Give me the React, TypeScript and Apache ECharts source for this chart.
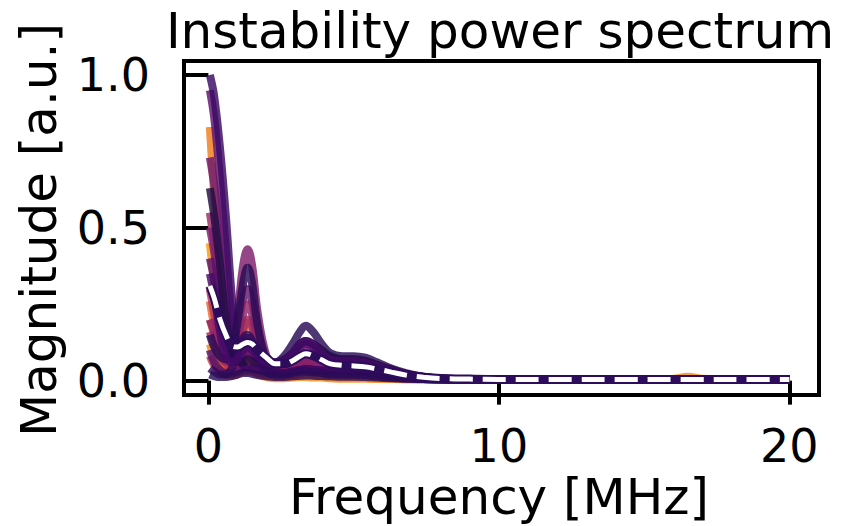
import React, { useEffect, useRef } from "react";
import * as echarts from "echarts";

// Frequency grid [MHz]
const FREQ = [0.05, 0.2, 0.4, 0.6, 0.8, 1.0, 1.2, 1.35, 1.5, 1.7, 2.0, 2.3, 2.6, 2.9, 3.15, 3.35, 3.6, 3.9, 4.2, 4.6, 5.0, 5.4, 5.8, 6.3, 6.8, 7.4, 8.0, 9.0, 10, 12, 14, 16, 16.5, 17, 18, 20];

// Individual spectra (back to front)
const O1 = [0.83, 0.6, 0.32, 0.14, 0.06, 0.04, 0.05, 0.06, 0.05, 0.04, 0.03, 0.02, 0.02, 0.03, 0.03, 0.03, 0.03, 0.025, 0.02, 0.02, 0.02, 0.02, 0.015, 0.012, 0.01, 0.007, 0.005, 0.004, 0.004, 0.004, 0.004, 0.004, 0.005, 0.004, 0.004, 0.004];
const O2 = [0.45, 0.32, 0.15, 0.06, 0.03, 0.03, 0.04, 0.05, 0.045, 0.035, 0.025, 0.015, 0.012, 0.015, 0.02, 0.02, 0.018, 0.015, 0.012, 0.01, 0.01, 0.01, 0.008, 0.007, 0.006, 0.005, 0.004, 0.004, 0.004, 0.004, 0.004, 0.004, 0.004, 0.004, 0.004, 0.004];
const O3 = [0.2, 0.15, 0.08, 0.05, 0.06, 0.1, 0.16, 0.19, 0.17, 0.1, 0.04, 0.02, 0.015, 0.02, 0.03, 0.035, 0.03, 0.025, 0.02, 0.02, 0.02, 0.018, 0.015, 0.01, 0.008, 0.006, 0.004, 0.004, 0.004, 0.004, 0.004, 0.004, 0.004, 0.004, 0.004, 0.004];
const O4 = [0.12, 0.08, 0.04, 0.02, 0.015, 0.02, 0.03, 0.035, 0.03, 0.02, 0.012, 0.008, 0.008, 0.01, 0.012, 0.012, 0.01, 0.01, 0.008, 0.006, 0.006, 0.006, 0.005, 0.005, 0.004, 0.003, 0.003, 0.003, 0.004, 0.004, 0.005, 0.006, 0.013, 0.006, 0.004, 0.004];
const O5 = [0.26, 0.18, 0.09, 0.04, 0.03, 0.04, 0.06, 0.07, 0.06, 0.045, 0.03, 0.02, 0.02, 0.025, 0.03, 0.032, 0.03, 0.028, 0.025, 0.022, 0.02, 0.018, 0.015, 0.011, 0.008, 0.006, 0.004, 0.004, 0.004, 0.004, 0.004, 0.004, 0.004, 0.004, 0.004, 0.004];
const R1 = [0.3, 0.22, 0.12, 0.06, 0.04, 0.06, 0.09, 0.1, 0.09, 0.06, 0.035, 0.025, 0.025, 0.035, 0.05, 0.055, 0.05, 0.04, 0.035, 0.03, 0.03, 0.028, 0.022, 0.016, 0.011, 0.007, 0.005, 0.004, 0.004, 0.004, 0.004, 0.004, 0.004, 0.004, 0.004, 0.004];
const R2 = [0.55, 0.45, 0.28, 0.13, 0.06, 0.05, 0.07, 0.08, 0.07, 0.05, 0.03, 0.02, 0.02, 0.03, 0.04, 0.045, 0.04, 0.035, 0.03, 0.028, 0.027, 0.025, 0.02, 0.015, 0.01, 0.007, 0.005, 0.004, 0.004, 0.004, 0.004, 0.004, 0.004, 0.004, 0.004, 0.004];
const R3 = [0.08, 0.05, 0.03, 0.02, 0.02, 0.025, 0.03, 0.03, 0.03, 0.025, 0.02, 0.015, 0.015, 0.02, 0.025, 0.028, 0.027, 0.025, 0.022, 0.02, 0.02, 0.02, 0.016, 0.012, 0.009, 0.006, 0.004, 0.004, 0.004, 0.004, 0.004, 0.004, 0.004, 0.004, 0.004, 0.004];
const R4 = [0.16, 0.12, 0.08, 0.06, 0.07, 0.11, 0.17, 0.2, 0.18, 0.11, 0.05, 0.035, 0.04, 0.06, 0.08, 0.09, 0.085, 0.07, 0.055, 0.045, 0.042, 0.04, 0.032, 0.022, 0.014, 0.008, 0.005, 0.004, 0.004, 0.004, 0.004, 0.004, 0.004, 0.004, 0.004, 0.004];
const P1 = [0.5, 0.42, 0.28, 0.16, 0.12, 0.22, 0.38, 0.43, 0.38, 0.22, 0.08, 0.04, 0.04, 0.07, 0.1, 0.11, 0.1, 0.08, 0.06, 0.055, 0.055, 0.05, 0.04, 0.03, 0.02, 0.012, 0.007, 0.005, 0.004, 0.004, 0.004, 0.004, 0.004, 0.004, 0.004, 0.004];
const P2 = [0.95, 0.86, 0.66, 0.43, 0.2, 0.07, 0.08, 0.1, 0.09, 0.07, 0.05, 0.04, 0.04, 0.05, 0.06, 0.065, 0.06, 0.055, 0.05, 0.05, 0.05, 0.045, 0.036, 0.026, 0.017, 0.01, 0.006, 0.005, 0.004, 0.004, 0.004, 0.004, 0.004, 0.004, 0.004, 0.004];
const P3 = [0.73, 0.64, 0.46, 0.26, 0.14, 0.18, 0.27, 0.3, 0.26, 0.16, 0.06, 0.035, 0.035, 0.05, 0.07, 0.075, 0.07, 0.055, 0.045, 0.04, 0.04, 0.038, 0.03, 0.022, 0.014, 0.009, 0.006, 0.005, 0.004, 0.004, 0.004, 0.004, 0.004, 0.004, 0.004, 0.004];
const P4 = [0.2, 0.16, 0.11, 0.08, 0.08, 0.14, 0.22, 0.25, 0.22, 0.13, 0.05, 0.03, 0.03, 0.045, 0.06, 0.065, 0.06, 0.05, 0.04, 0.035, 0.035, 0.033, 0.026, 0.018, 0.012, 0.008, 0.005, 0.004, 0.004, 0.004, 0.004, 0.004, 0.004, 0.004, 0.004, 0.004];
const P5 = [0.1, 0.06, 0.035, 0.025, 0.025, 0.03, 0.04, 0.045, 0.04, 0.035, 0.028, 0.025, 0.025, 0.03, 0.035, 0.038, 0.036, 0.034, 0.032, 0.031, 0.03, 0.028, 0.022, 0.016, 0.01, 0.006, 0.004, 0.004, 0.004, 0.004, 0.004, 0.004, 0.004, 0.004, 0.004, 0.004];
const P6 = [0.4, 0.33, 0.2, 0.11, 0.09, 0.1, 0.13, 0.14, 0.13, 0.1, 0.07, 0.06, 0.07, 0.09, 0.11, 0.12, 0.11, 0.09, 0.075, 0.068, 0.066, 0.062, 0.05, 0.035, 0.022, 0.012, 0.007, 0.005, 0.004, 0.004, 0.004, 0.004, 0.004, 0.004, 0.004, 0.004];
const D1 = [1.0, 0.93, 0.76, 0.54, 0.28, 0.09, 0.05, 0.04, 0.04, 0.035, 0.03, 0.025, 0.025, 0.03, 0.035, 0.038, 0.036, 0.033, 0.03, 0.03, 0.03, 0.028, 0.022, 0.016, 0.011, 0.007, 0.005, 0.004, 0.004, 0.004, 0.004, 0.004, 0.004, 0.004, 0.004, 0.004];
const D2 = [0.15, 0.11, 0.08, 0.07, 0.09, 0.19, 0.32, 0.37, 0.32, 0.18, 0.07, 0.06, 0.08, 0.12, 0.16, 0.18, 0.16, 0.12, 0.09, 0.08, 0.08, 0.075, 0.06, 0.04, 0.025, 0.013, 0.007, 0.005, 0.004, 0.004, 0.004, 0.004, 0.004, 0.004, 0.004, 0.004];
const D3 = [0.63, 0.54, 0.38, 0.2, 0.09, 0.06, 0.06, 0.07, 0.065, 0.06, 0.05, 0.05, 0.06, 0.09, 0.12, 0.13, 0.12, 0.1, 0.08, 0.07, 0.07, 0.065, 0.052, 0.036, 0.022, 0.012, 0.007, 0.005, 0.004, 0.004, 0.004, 0.004, 0.004, 0.004, 0.004, 0.004];
const D4 = [0.04, 0.03, 0.02, 0.02, 0.04, 0.09, 0.14, 0.15, 0.13, 0.08, 0.03, 0.02, 0.02, 0.025, 0.03, 0.03, 0.028, 0.025, 0.02, 0.02, 0.02, 0.018, 0.014, 0.01, 0.007, 0.005, 0.004, 0.004, 0.004, 0.004, 0.004, 0.004, 0.004, 0.004, 0.004, 0.004];
const D5 = [0.35, 0.28, 0.16, 0.08, 0.06, 0.07, 0.1, 0.11, 0.1, 0.08, 0.06, 0.05, 0.06, 0.09, 0.12, 0.13, 0.12, 0.09, 0.07, 0.065, 0.065, 0.06, 0.048, 0.034, 0.021, 0.011, 0.006, 0.005, 0.004, 0.004, 0.004, 0.004, 0.004, 0.004, 0.004, 0.004];
const D6 = [0.02, 0.015, 0.012, 0.012, 0.015, 0.02, 0.025, 0.025, 0.022, 0.018, 0.014, 0.012, 0.012, 0.014, 0.016, 0.017, 0.016, 0.015, 0.014, 0.013, 0.013, 0.012, 0.01, 0.008, 0.006, 0.005, 0.004, 0.004, 0.004, 0.004, 0.004, 0.004, 0.004, 0.004, 0.004, 0.004];

// Mean spectrum (white dashed)
const MEAN = [0.31, 0.27, 0.2, 0.15, 0.115, 0.11, 0.12, 0.125, 0.12, 0.1, 0.075, 0.055, 0.055, 0.065, 0.08, 0.088, 0.082, 0.068, 0.055, 0.05, 0.048, 0.045, 0.038, 0.028, 0.018, 0.011, 0.007, 0.005, 0.004, 0.004, 0.004, 0.004, 0.004, 0.004, 0.004, 0.004];

const SPECTRA = [O1, O2, O3, O4, O5, R1, R2, R3, R4, P1, P2, P3, P4, P5, P6, D1, D2, D3, D4, D5, D6];
const COLORS = ["#f07c1c", "#f99a0c", "#e35932", "#f5891a", "#ea6a26", "#b8365a", "#9f2a63", "#cc4248", "#a02b62", "#7c1d6d", "#5e126e", "#6a176e", "#8c2369", "#4f0d6c", "#58106e", "#3a0963", "#280b54", "#1e0c45", "#300a5c", "#440a68", "#2a0b57"];

const X_TICKS = [0, 10, 20];
const Y_TICKS = [0, 0.5, 1.0];

const FONT = "DejaVu Sans";

export default function App() {
  const ref = useRef<HTMLDivElement>(null);
  useEffect(() => {
    if (!ref.current) return;
    const chart = echarts.init(ref.current, null, { renderer: "svg" });
    const toPts = (vals: number[]) => FREQ.map((f, i) => [f, vals[i]]);
    const series: any[] = SPECTRA.map((vals, k) => ({
      type: "line",
      data: toPts(vals),
      showSymbol: false,
      smooth: 0.4,
      silent: true,
      lineStyle: { color: COLORS[k], width: 8, opacity: 0.82 },
      emphasis: { disabled: true },
    }));
    series.push({
      type: "line",
      data: toPts(MEAN),
      showSymbol: false,
      smooth: 0.4,
      silent: true,
      lineStyle: { color: "#2d0c5c", width: 9, opacity: 1 },
      emphasis: { disabled: true },
    });
    series.push({
      type: "line",
      data: toPts(MEAN),
      showSymbol: false,
      smooth: 0.4,
      silent: true,
      lineStyle: { color: "#ffffff", width: 5, type: [23, 10], cap: "butt" },
      emphasis: { disabled: true },
    });
    const textStyle = (text: string) => ({
      text,
      fontSize: 50,
      lineHeight: 50,
      fontFamily: FONT,
      fill: "#000",
      textAlign: "center",
      textVerticalAlign: "middle",
      align: "center",
      verticalAlign: "middle",
    });
    chart.setOption({
      animation: false,
      grid: {
        left: 184,
        right: 22,
        top: 61,
        bottom: 131,
        show: true,
        borderColor: "#000",
        borderWidth: 4,
        backgroundColor: "#fff",
        outerBoundsMode: "none",
        containLabel: false,
      },
      xAxis: {
        type: "value",
        min: -0.84,
        max: 21.02,
        axisLine: { show: false },
        splitLine: { show: false },
        axisTick: { show: true, customValues: X_TICKS, length: 24, lineStyle: { color: "#000", width: 4 } },
        axisLabel: {
          customValues: X_TICKS,
          formatter: (v: number) => String(Math.round(v)),
          fontSize: 46,
          fontFamily: FONT,
          color: "#000",
          margin: 28,
        },
      },
      yAxis: {
        type: "value",
        min: -0.047,
        max: 1.046,
        axisLine: { show: false },
        splitLine: { show: false },
        axisTick: { show: true, customValues: Y_TICKS, length: 24, lineStyle: { color: "#000", width: 4 } },
        axisLabel: {
          customValues: Y_TICKS,
          formatter: (v: number) => v.toFixed(1),
          fontSize: 46,
          fontFamily: FONT,
          color: "#000",
          margin: 34,
        },
      },
      graphic: [
        { type: "text", x: 500, y: 31, style: textStyle("Instability power spectrum") },
        { type: "text", x: 499, y: 497, style: textStyle("Frequency [MHz]") },
        { type: "text", x: 39, y: 230, rotation: Math.PI / 2, style: textStyle("Magnitude [a.u.]") },
      ],
      series,
    });
    return () => chart.dispose();
  }, []);
  return <div ref={ref} style={{ width: 841, height: 526, position: "absolute", left: 0, top: 0 }} />;
}
